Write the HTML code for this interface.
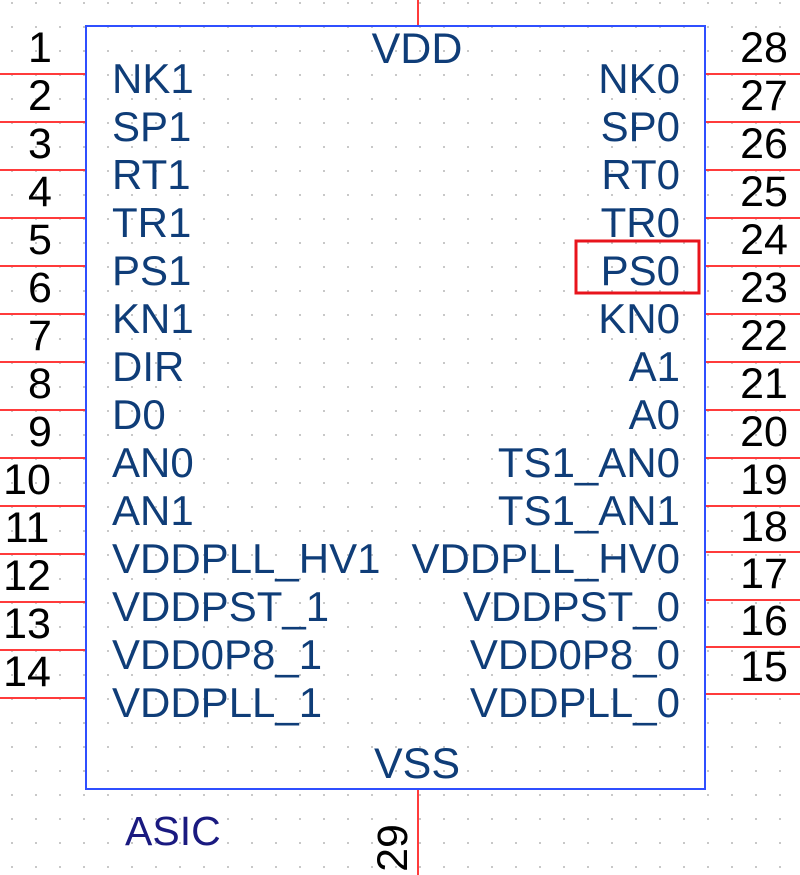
<!DOCTYPE html>
<html><head><style>
html,body{margin:0;padding:0;background:#fff;}
svg{display:block;}
.l{font-family:"Liberation Sans",Arial,sans-serif;font-size:42px;fill:#0f3d78;}
.n{font-family:"Liberation Sans",Arial,sans-serif;font-size:43px;fill:#000;}
</style></head><body>
<svg width="800" height="875" xmlns="http://www.w3.org/2000/svg">
<defs><pattern id="g" x="11" y="2" width="24" height="24" patternUnits="userSpaceOnUse"><rect x="0" y="0" width="2" height="2" fill="#c8c8c8"/></pattern></defs>
<rect width="800" height="875" fill="url(#g)"/>
<g stroke="#ff3b3b" stroke-width="2">
<line x1="418" y1="0" x2="418" y2="26"/>
<line x1="418" y1="789" x2="418" y2="875"/>
<line x1="0" y1="74" x2="86" y2="74"/><line x1="0" y1="122" x2="86" y2="122"/><line x1="0" y1="170" x2="86" y2="170"/><line x1="0" y1="218" x2="86" y2="218"/><line x1="0" y1="266" x2="86" y2="266"/><line x1="0" y1="314" x2="86" y2="314"/><line x1="0" y1="362" x2="86" y2="362"/><line x1="0" y1="410" x2="86" y2="410"/><line x1="0" y1="458" x2="86" y2="458"/><line x1="0" y1="506" x2="86" y2="506"/><line x1="0" y1="554" x2="86" y2="554"/><line x1="0" y1="602" x2="86" y2="602"/><line x1="0" y1="650" x2="86" y2="650"/><line x1="0" y1="698" x2="86" y2="698"/>
<line x1="705" y1="74" x2="800" y2="74"/><line x1="705" y1="122" x2="800" y2="122"/><line x1="705" y1="170" x2="800" y2="170"/><line x1="705" y1="218" x2="800" y2="218"/><line x1="705" y1="266" x2="800" y2="266"/><line x1="705" y1="314" x2="800" y2="314"/><line x1="705" y1="362" x2="800" y2="362"/><line x1="705" y1="410" x2="800" y2="410"/><line x1="705" y1="458" x2="800" y2="458"/><line x1="705" y1="506" x2="800" y2="506"/><line x1="705" y1="552" x2="800" y2="552"/><line x1="705" y1="600" x2="800" y2="600"/><line x1="705" y1="647" x2="800" y2="647"/><line x1="705" y1="694" x2="800" y2="694"/>
</g>
<rect x="86" y="26" width="619" height="763" fill="none" stroke="#2f4fff" stroke-width="2"/>
<rect x="576" y="241" width="123" height="52" fill="none" stroke="#e8141c" stroke-width="3"/>
<g class="l">
<text x="417" y="63" text-anchor="middle" style="font-size:43px">VDD</text>
<text x="417" y="778" text-anchor="middle" style="font-size:43px">VSS</text>
<text x="112" y="93">NK1</text><text x="112" y="141">SP1</text><text x="112" y="189">RT1</text><text x="112" y="237">TR1</text><text x="112" y="285">PS1</text><text x="112" y="333">KN1</text><text x="112" y="381">DIR</text><text x="112" y="429">D0</text><text x="112" y="477">AN0</text><text x="112" y="525">AN1</text><text x="112" y="573">VDDPLL_HV1</text><text x="112" y="621">VDDPST_1</text><text x="112" y="669">VDD0P8_1</text><text x="112" y="717">VDDPLL_1</text>
</g>
<g class="l" text-anchor="end">
<text x="680" y="93">NK0</text><text x="680" y="141">SP0</text><text x="680" y="189">RT0</text><text x="680" y="237">TR0</text><text x="680" y="285">PS0</text><text x="680" y="333">KN0</text><text x="680" y="381">A1</text><text x="680" y="429">A0</text><text x="680" y="477">TS1_AN0</text><text x="680" y="525">TS1_AN1</text><text x="680" y="573">VDDPLL_HV0</text><text x="680" y="621">VDDPST_0</text><text x="680" y="669">VDD0P8_0</text><text x="680" y="717">VDDPLL_0</text>
</g>
<g class="n" text-anchor="middle">
<text x="40" y="62">1</text><text x="40" y="110">2</text><text x="40" y="158">3</text><text x="40" y="206">4</text><text x="40" y="254">5</text><text x="40" y="302">6</text><text x="40" y="350">7</text><text x="40" y="398">8</text><text x="40" y="446">9</text><text x="27" y="494">10</text><text x="27" y="542">11</text><text x="27" y="590">12</text><text x="27" y="638">13</text><text x="27" y="686">14</text>
<text x="764" y="62">28</text><text x="764" y="110">27</text><text x="764" y="158">26</text><text x="764" y="206">25</text><text x="764" y="254">24</text><text x="764" y="302">23</text><text x="764" y="350">22</text><text x="764" y="398">21</text><text x="764" y="446">20</text><text x="764" y="494">19</text><text x="764" y="541">18</text><text x="764" y="588">17</text><text x="764" y="635">16</text><text x="764" y="681">15</text>
<text transform="translate(407,848) rotate(-90)" x="0" y="0">29</text>
</g>
<text x="125" y="845" style="font-family:'Liberation Sans',Arial,sans-serif;font-size:41px;fill:#1a1a80;">ASIC</text>
</svg>
</body></html>
